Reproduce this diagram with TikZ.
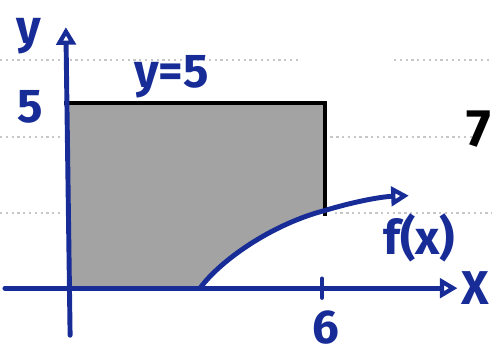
\documentclass[tikz,border=0pt]{standalone}
\usepackage{fontspec}
\setmainfont{Fira Sans}
\usepackage{xcolor}
\usetikzlibrary{arrows.meta,positioning,calc}
\definecolor{penblue}{RGB}{24,44,152}

\begin{document}
\begin{tikzpicture}[
    x=0.8467cm, y=0.7405cm,
    axis/.style={draw=penblue, line width=2.8pt, line cap=round},
    tip/.style={-{Triangle[open, length=10pt, width=11pt, line width=2.4pt]}},
    pen/.style={draw=black, line width=2.6pt},
    lbl/.style={text=penblue, font=\fontsize{27}{29}\selectfont\bfseries, inner sep=1pt},
    paper/.style={draw=black!22, line width=1.3pt, dotted},
]
\useasboundingbox (-1.606,-1.784) rectangle (10.016,7.784);
\clip (-1.606,-1.784) rectangle (10.016,7.784);

% notebook lines
\draw[paper] (-1.606,6.162) -- (5.5,6.162);
\draw[paper] (7.7,6.162) -- (10.016,6.162);
\draw[paper] (-1.606,4.081) -- (-0.1,4.081);
\draw[paper] (6.2,4.081) -- (9.6,4.081);
\draw[paper] (-1.606,2.027) -- (-0.1,2.027);
\draw[paper] (6.3,2.027) -- (10.016,2.027);

% key points
\coordinate (origin) at (0,0);
\coordinate (xstart) at (-1.49,0);
\coordinate (xend) at (9.2,0);
\coordinate (ystart) at (0.05,-1.27);
\coordinate (yend) at (-0.05,7.05);
\coordinate (top5) at (-0.1,5);
\coordinate (corner) at (6.07,5);
\coordinate (fsix) at (6.07,2.1);
\coordinate (froot) at (3.118,0);
\coordinate (fend) at (8.05,2.5);

% shaded region
\fill[black!36] (origin) -- (0,5) -- (corner) -- (fsix)
    .. controls (4.8,1.72) and (3.6,0.75) .. (froot) -- cycle;

% bounds
\draw[pen] (top5) -- (corner) -- ($(fsix)+(0,-0.15)$);

% axes
\draw[axis, tip] (xstart) -- (xend);
\draw[axis, tip] (ystart) -- (yend);
\draw[axis] (6,-0.25) -- (6,0.25);

% f(x)
\draw[axis, tip] (froot) .. controls (3.6,0.75) and (4.8,1.72) .. (fsix)
    .. controls (6.8,2.35) and (7.4,2.47) .. (fend);

% labels
\node[lbl] (ylab) at (-0.92,6.8) {y};
\node[lbl] (five) at (-0.9,4.9) {5};
\node[lbl] (yeq) at (2.45,5.7) {y=5};
\node[lbl] (flab) at (8.3,1.35) {f(x)};
\node[lbl] (six) at (6.1,-1.05) {6};
\node[lbl, anchor=east] (xlab) at (10.0,0.0) {X};
\node[text=black, font=\fontsize{30}{32}\selectfont\bfseries, inner sep=0pt, anchor=east] (seven) at (10.0,4.3) {7};
\end{tikzpicture}
\end{document}
